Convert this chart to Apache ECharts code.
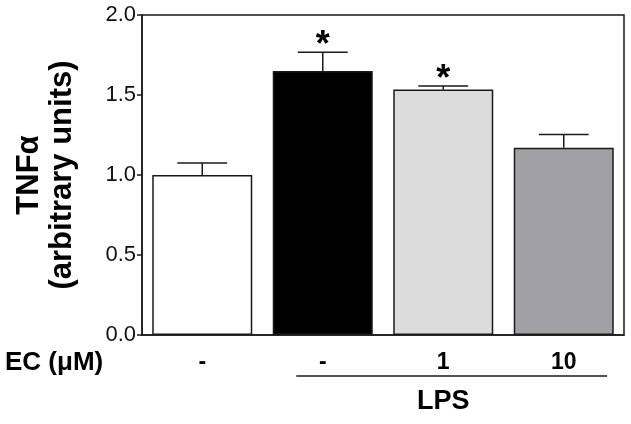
<!DOCTYPE html>
<html>
<head>
<meta charset="utf-8">
<script src="https://cdn.jsdelivr.net/npm/echarts@6/dist/echarts.min.js"></script>
<style>html,body{margin:0;padding:0;background:#fff;}#c{width:631px;height:424px;}</style>
</head>
<body>
<div id="c"></div>
<script>
// ---- data ----
const categories = ['-', '-', '1', '10'];
const means = [1.00, 1.65, 1.535, 1.17];
const sem = [0.075, 0.117, 0.021, 0.083];
const marks = ['', '*', '*', ''];
const yTicks = [0, 0.5, 1.0, 1.5, 2.0];
const groupLabel = 'LPS';
const groupFrom = 1, groupTo = 3;

// ---- styles ----
const barColors = ['#ffffff', '#000000', '#dcdcdc', '#a1a1a5'];
const ink = '#1a1a1a';
const FONT = '"Liberation Sans", Arial, Helvetica, sans-serif';

const chart = echarts.init(document.getElementById('c'), null, {renderer: 'canvas'});

const option = {
  animation: false,
  backgroundColor: '#ffffff',
  grid: {left: 142, right: 7, top: 15, bottom: 89, show: true, borderColor: ink, borderWidth: 1.5, backgroundColor: 'transparent'},
  xAxis: {
    type: 'category',
    data: categories,
    axisLine: {show: true, lineStyle: {color: ink, width: 1.5}},
    axisTick: {show: false},
    axisLabel: {fontFamily: FONT, fontWeight: 'bold', fontSize: 23, color: '#000', margin: 16},
    splitLine: {show: false}
  },
  yAxis: {
    type: 'value',
    min: yTicks[0], max: yTicks[yTicks.length - 1], interval: 0.5,
    name: 'TNFα\n(arbitrary units)',
    nameLocation: 'middle',
    nameRotate: 90,
    nameGap: 63,
    nameTextStyle: {fontFamily: FONT, fontWeight: 'bold', fontSize: 31, color: '#000', lineHeight: 33, align: 'center'},
    axisLine: {show: true, lineStyle: {color: ink, width: 1.5}},
    axisTick: {show: true, length: 5, inside: false, lineStyle: {color: ink, width: 1.5}},
    axisLabel: {fontFamily: FONT, fontSize: 22, color: '#111', margin: 6, formatter: v => v.toFixed(1)},
    splitLine: {show: false}
  },
  series: [
    {
      type: 'bar',
      data: means.map((v, i) => ({value: v, itemStyle: {color: barColors[i]}})),
      barWidth: '83%',
      itemStyle: {borderColor: ink, borderWidth: 1.5},
      z: 2
    },
    {
      type: 'custom',
      data: means.map((v, i) => [i, v, v + sem[i], marks[i]]),
      z: 3,
      renderItem: function (params, api) {
        const i = api.value(0);
        const base = api.coord([i, api.value(1)]);
        const top = api.coord([i, api.value(2)]);
        const half = api.size([1, 0])[0] * 0.207;
        const st = {stroke: ink, lineWidth: 1.5};
        const children = [
          {type: 'line', shape: {x1: base[0], y1: base[1], x2: top[0], y2: top[1]}, style: st},
          {type: 'line', shape: {x1: top[0] - half, y1: top[1], x2: top[0] + half, y2: top[1]}, style: st}
        ];
        const m = marks[i];
        if (m) {
          children.push({type: 'text', style: {text: m, x: top[0], y: top[1] + 12, fontFamily: FONT, fontWeight: 'bold', fontSize: 36, fill: '#000', textAlign: 'center', textVerticalAlign: 'bottom'}});
        }
        return {type: 'group', children: children};
      }
    }
  ]
};
chart.setOption(option);

// annotations positioned from the axis scale
const p1 = chart.convertToPixel({seriesIndex: 0}, [groupFrom, 0]);
const p3 = chart.convertToPixel({seriesIndex: 0}, [groupTo, 0]);
const pMid = chart.convertToPixel({seriesIndex: 0}, [Math.round((groupFrom + groupTo) / 2), 0]);
const catW = (p3[0] - p1[0]) / (groupTo - groupFrom);
chart.setOption({
  graphic: [
    {type: 'text', left: 5, top: 350, style: {text: 'EC (μM)', fontFamily: FONT, fontWeight: 'bold', fontSize: 26, fill: '#000'}},
    {type: 'line', shape: {x1: p1[0] - catW * 0.22, y1: 376, x2: p3[0] + catW * 0.36, y2: 376}, style: {stroke: ink, lineWidth: 1.5}},
    {type: 'text', x: pMid[0], y: 402, style: {text: groupLabel, fontFamily: FONT, fontWeight: 'bold', fontSize: 27, fill: '#000', textAlign: 'center', textVerticalAlign: 'middle'}}
  ]
});
</script>
</body>
</html>
